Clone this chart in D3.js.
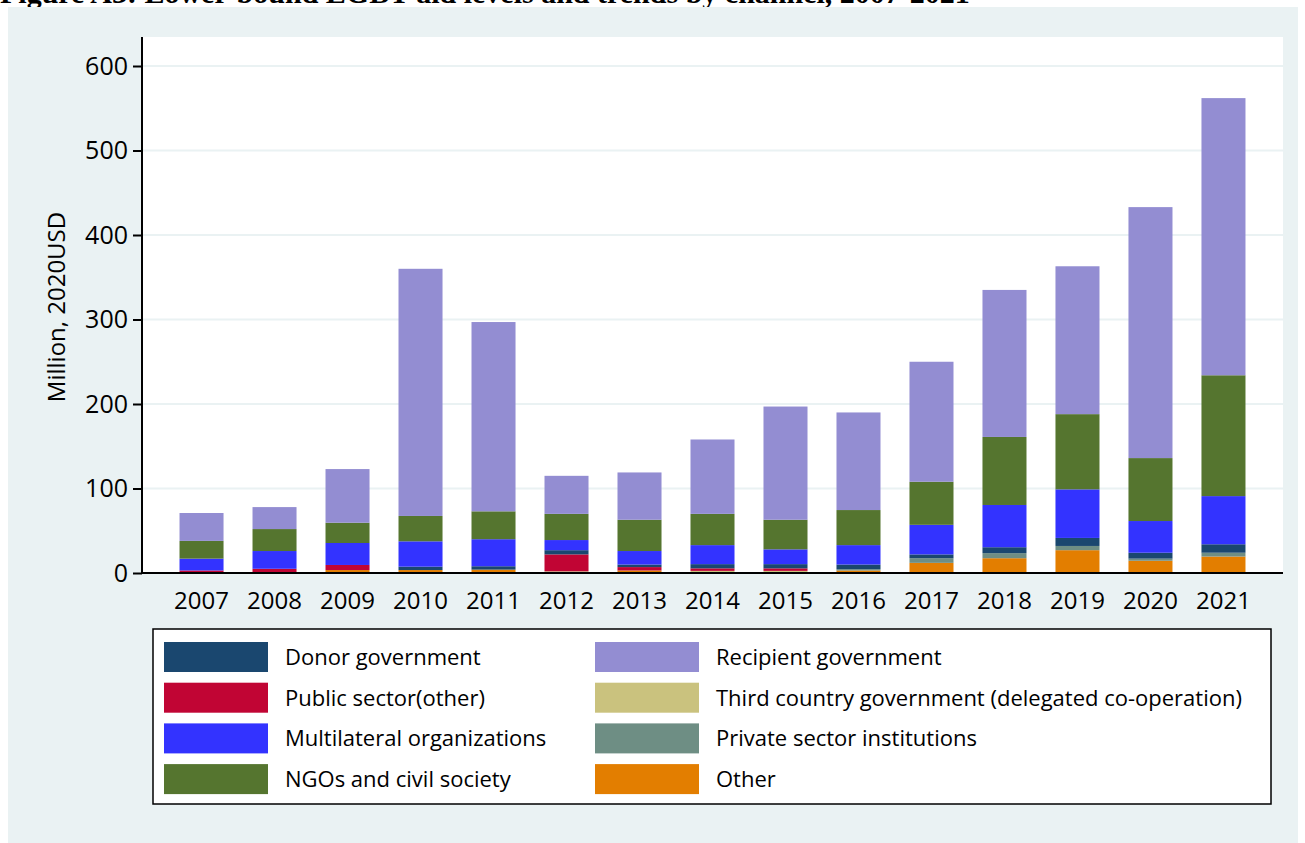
<!DOCTYPE html>
<html>
<head>
<meta charset="utf-8">
<script src="https://cdn.jsdelivr.net/npm/d3@7"></script>
<style>
  body { margin: 0; background: #fff; }
  svg { display: block; }
</style>
</head>
<body>
<div id="chart"></div>
<script>
const years = [2007, 2008, 2009, 2010, 2011, 2012, 2013, 2014, 2015, 2016, 2017, 2018, 2019, 2020, 2021];

// stacked bottom to top
const other         = [0, 0, 3.5, 3.5, 4, 1, 3, 0, 1, 3, 12, 17.5, 27, 14.5, 19.5];
const thirdCountry  = [0, 0, 0, 0, 0, 1, 0, 2.5, 1.5, 0, 0, 0, 0, 0, 0];
const privateSector = [0, 0, 0, 0, 0, 0, 0, 0, 0, 1.5, 5.5, 6, 5, 2.5, 4.5];
const publicSector  = [3, 5, 6, 0, 0, 20, 4, 3, 3, 0, 0, 0, 0, 0, 0];
const donorGov      = [0, 0, 0, 4, 4, 5, 3, 5, 5, 5.5, 4.5, 7, 9.5, 7, 10];
const multilateral  = [14, 21, 26, 30, 32, 12, 16, 22.5, 17.5, 23, 35, 50, 57.5, 37.5, 57];
const ngos          = [21, 26, 24, 30, 33, 31, 37, 37, 35, 41.5, 51, 80.5, 89, 74.5, 143];
const recipientGov  = [33, 26, 63.5, 292.5, 224, 45, 56, 88, 134, 115.5, 142, 174, 175, 297, 328];

const yTicks = [0, 100, 200, 300, 400, 500, 600];

const legendLeft  = ['Donor government', 'Public sector(other)', 'Multilateral organizations', 'NGOs and civil society'];
const legendRight = ['Recipient government', 'Third country government (delegated co-operation)', 'Private sector institutions', 'Other'];

const colors = {
  'Donor government': '#1a476f',
  'Public sector(other)': '#c10534',
  'Multilateral organizations': '#3333ff',
  'NGOs and civil society': '#55752f',
  'Recipient government': '#938dd2',
  'Third country government (delegated co-operation)': '#cac27e',
  'Private sector institutions': '#6e8e84',
  'Other': '#e37e00'
};

const keys = ['Other', 'Third country government (delegated co-operation)', 'Private sector institutions',
  'Public sector(other)', 'Donor government', 'Multilateral organizations', 'NGOs and civil society', 'Recipient government'];
const seriesArrays = [other, thirdCountry, privateSector, publicSector, donorGov, multilateral, ngos, recipientGov];

let table = years.map(function(yr, i) {
  let row = { year: yr };
  keys.forEach(function(k, j) { row[k] = seriesArrays[j][i]; });
  return row;
});

const W = 1305, H = 843;
let svg = d3.select('#chart').append('svg').attr('width', W).attr('height', H);

// title, clipped at the top edge as in the source
svg.append('text')
  .attr('x', 0).attr('y', 3)
  .attr('font-family', 'Liberation Serif').attr('font-weight', 'bold').attr('font-size', 30)
  .text('Figure A3: Lower-bound LGBT aid levels and trends by channel, 2007-2021');

// outer background
svg.append('rect').attr('x', 8).attr('y', 7).attr('width', 1290).attr('height', 836).attr('fill', '#eaf2f3');

const plotL = 142, plotR = 1283, plotT = 37, plotB = 573;
svg.append('rect').attr('x', plotL).attr('y', plotT).attr('width', plotR - plotL).attr('height', plotB - plotT).attr('fill', '#fff');

let x = d3.scaleBand().domain(years).range([plotL, plotR]).paddingInner(0.397).paddingOuter(0.514);
let y = d3.scaleLinear().domain([0, 600]).range([plotB, 66]);

// gridlines
svg.append('g').selectAll('line')
  .data(yTicks.filter(d => d > 0)).enter()
  .append('line')
  .attr('x1', plotL).attr('x2', plotR)
  .attr('y1', d => y(d)).attr('y2', d => y(d))
  .attr('stroke', '#eaf2f3').attr('stroke-width', 2);

// bars
let stacked = d3.stack().keys(keys)(table);
let layers = svg.append('g').selectAll('g')
  .data(stacked).enter()
  .append('g')
  .attr('fill', d => colors[d.key]);

layers.selectAll('rect')
  .data(d => d).enter()
  .append('rect')
  .attr('x', d => x(d.data.year))
  .attr('width', x.bandwidth())
  .attr('y', d => y(d[1]))
  .attr('height', d => y(d[0]) - y(d[1]));

// y axis
let yAxis = svg.append('g')
  .attr('transform', 'translate(' + plotL + ',0)')
  .call(d3.axisLeft(y).tickValues(yTicks).tickSize(9).tickPadding(5));
yAxis.select('.domain').remove();
yAxis.selectAll('line').attr('stroke', '#000').attr('stroke-width', 2);
yAxis.selectAll('text').attr('font-family', 'Open Sans').attr('font-size', 25).attr('fill', '#000');

svg.append('line').attr('x1', plotL).attr('x2', plotL).attr('y1', plotT).attr('y2', plotB + 1)
  .attr('stroke', '#000').attr('stroke-width', 2);

// x axis
let xAxis = svg.append('g')
  .attr('transform', 'translate(0,' + plotB + ')')
  .call(d3.axisBottom(x).tickSize(0).tickPadding(19));
xAxis.select('.domain').remove();
xAxis.selectAll('text').attr('font-family', 'Open Sans').attr('font-size', 24).attr('fill', '#000');

svg.append('line').attr('x1', plotL - 1).attr('x2', plotR).attr('y1', plotB).attr('y2', plotB)
  .attr('stroke', '#000').attr('stroke-width', 2);

// y title
svg.append('text')
  .attr('transform', 'translate(65,' + ((plotT + plotB) / 2 + 2) + ') rotate(-90)')
  .attr('text-anchor', 'middle')
  .attr('font-family', 'Open Sans').attr('font-size', 24)
  .text('Million, 2020USD');

// legend
svg.append('rect')
  .attr('x', 153).attr('y', 629).attr('width', 1118).attr('height', 175)
  .attr('fill', '#fff').attr('stroke', '#000').attr('stroke-width', 1.5);

let columns = [{ names: legendLeft, x: 164 }, { names: legendRight, x: 595 }];
columns.forEach(function(col) {
  for (let i = 0; i < col.names.length; i++) {
    let ry = 642 + i * 40.7;
    svg.append('rect')
      .attr('x', col.x).attr('y', ry)
      .attr('width', 104).attr('height', 30)
      .attr('fill', colors[col.names[i]]);
    svg.append('text')
      .attr('x', col.x + 121).attr('y', ry + 23)
      .attr('font-family', 'Open Sans').attr('font-size', 22)
      .text(col.names[i]);
  }
});
</script>
</body>
</html>
